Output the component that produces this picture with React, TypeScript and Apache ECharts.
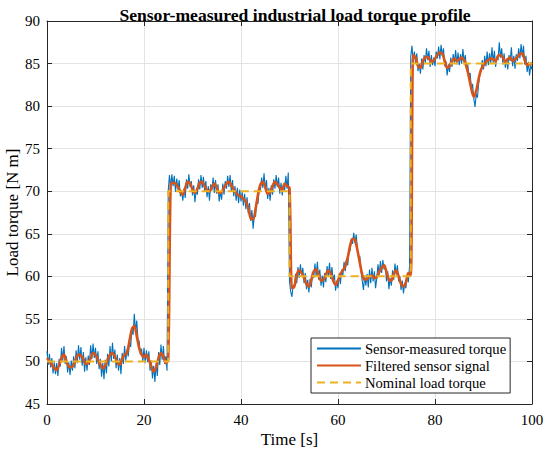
import React, { useEffect, useRef } from "react";
import * as echarts from "echarts";

const TITLE = "Sensor-measured industrial load torque profile";
const X_NAME = "Time [s]";
const Y_NAME = "Load torque [N m]";
const SERIES_NAMES = ["Sensor-measured torque", "Filtered sensor signal", "Nominal load torque"];

// sampling steps (s)
const MEASURED_DT = 0.25;
const FILTERED_DT = 0.5;

// Sensor-measured torque, sampled every 0.25 s from t = 0 to 100 s
const measured: number[] = [
  51.2, 49.6, 50.9, 49.3, 50.4, 48.6, 49.9, 48.5, 49.8, 48.3, 50.3, 49.4, 51.6, 50.1, 51.8, 49.7,
  50.6, 48.7, 49.9, 48.4, 50.1, 48.9, 50.6, 49.2, 51.3, 49.8, 51.9, 50.2, 51.7, 49.5, 51.1, 48.8,
  50.5, 48.9, 50.7, 49.6, 51.9, 50.3, 52.1, 50.4, 51.6, 49.7, 51.2, 49.1, 50.3, 48.2, 49.8, 47.9,
  50.2, 48.6, 50.9, 49.4, 51.8, 50.0, 52.2, 50.3, 51.4, 49.2, 50.8, 48.9, 50.4, 48.5, 51.0, 49.7,
  51.8, 50.1, 51.4, 50.6, 52.3, 51.7, 53.9, 53.1, 55.6, 53.5, 54.8, 52.6, 52.4, 50.8, 51.5, 50.0,
  51.6, 49.8, 51.3, 49.9, 51.2, 48.9, 50.1, 48.0, 49.5, 47.6, 49.8, 48.3, 51.1, 49.6, 52.0, 50.2,
  51.8, 49.7, 50.6, 48.9,
  70.1, 71.9, 70.4, 72.0, 70.6, 71.8, 69.9, 71.5, 70.2, 71.3, 69.4, 70.1, 68.9, 70.3, 69.2, 71.4,
  70.3, 72.0, 70.5, 71.2, 69.5, 70.7, 68.7, 70.1, 69.6, 71.4, 70.2, 71.9, 70.4, 71.7, 70.0, 71.2,
  69.3, 70.6, 68.9, 70.8, 70.1, 71.6, 69.8, 71.3, 69.7, 70.8, 68.8, 70.0, 69.0, 70.9, 69.6, 71.2,
  70.3, 71.8, 70.5, 71.9, 70.0, 71.3, 69.4, 70.6, 68.9, 70.4, 68.6, 70.2, 68.8, 69.9, 68.3, 69.7,
  67.9, 69.3, 67.4, 68.6, 66.5, 67.8, 65.6, 67.2, 67.0, 69.1, 68.5, 70.3, 70.1, 71.6, 70.4, 72.1,
  70.2, 71.3, 69.1, 70.4, 68.9, 70.7, 69.6, 71.4, 70.3, 71.9, 70.5, 71.6, 69.7, 71.0, 69.5, 70.8,
  70.1, 71.8, 70.3, 72.2,
  59.4, 58.2, 57.6, 59.0, 58.6, 60.3, 59.2, 61.1, 59.8, 61.4, 60.1, 61.0, 59.2, 60.4, 58.5, 59.6,
  58.1, 59.7, 58.7, 60.5, 59.8, 61.5, 60.0, 61.7, 59.6, 60.8, 58.9, 60.1, 58.7, 60.4, 59.3, 61.2,
  60.0, 61.6, 59.7, 61.1, 59.4, 60.2, 58.3, 59.5, 58.6, 60.3, 59.1, 60.8, 60.1, 61.7, 60.6, 62.0,
  61.3, 62.9, 63.0, 64.4, 63.8, 65.1, 63.9, 64.9, 63.2, 62.1, 62.4, 60.6, 59.5, 58.4, 60.1, 58.9,
  60.3, 58.7, 60.8, 59.2, 61.0, 59.4, 60.6, 58.6, 59.8, 61.4, 60.2, 61.8, 60.4, 61.9, 60.8, 61.3,
  59.4, 60.6, 58.5, 59.8, 58.9, 60.7, 59.6, 61.5, 60.2, 61.3, 59.4, 60.0, 58.4, 59.5, 58.0, 59.2,
  58.6, 60.1, 59.3, 61.2,
  85.8, 87.1, 85.2, 86.4, 85.0, 86.2, 84.1, 85.0, 83.8, 85.6, 84.3, 86.0, 85.1, 86.8, 85.4, 86.5,
  84.6, 86.0, 84.8, 85.7, 84.7, 86.4, 85.6, 87.0, 85.5, 87.2, 85.9, 86.8, 84.7, 85.3, 83.6, 84.9,
  84.0, 85.7, 84.6, 86.1, 85.1, 86.6, 84.9, 86.3, 84.8, 86.1, 85.0, 86.7, 85.2, 86.0, 84.3, 84.9,
  83.6, 83.9, 82.0, 82.6, 80.9, 79.9, 81.4, 81.0, 82.6, 83.9, 84.1, 85.4, 84.3, 85.9, 84.7, 86.4,
  84.8, 86.2, 85.0, 86.9, 85.1, 86.5, 84.6, 85.8, 85.4, 87.5, 85.7, 86.8, 84.9, 86.2, 84.5, 85.6,
  84.3, 86.0, 85.3, 86.9, 84.7, 85.9, 84.4, 86.1, 85.3, 86.8, 85.6, 87.3, 85.8, 87.1, 84.9, 85.9,
  84.0, 85.2, 83.6, 84.8, 84.3,
];

// Filtered sensor signal, sampled every 0.5 s from t = 0 to 100 s
const filtered: number[] = [
  50.4, 50.0, 49.6, 49.2, 49.0, 49.6, 50.4, 50.8, 50.0, 49.4, 49.3, 49.6, 50.3, 50.8, 50.7, 50.3,
  49.7, 49.8, 50.4, 51.0, 50.8, 50.2, 49.6, 49.2, 49.5, 50.2, 50.8, 51.0, 50.6, 49.9, 49.6, 50.3,
  50.8, 51.0, 52.4, 53.8, 54.2, 53.0, 51.6, 50.8, 50.5, 50.8, 50.2, 49.4, 48.8, 49.3, 50.4, 51.0,
  50.6, 49.8, 50.2,
  70.8, 71.0, 70.9, 70.5, 69.9, 69.6, 70.4, 71.1, 70.9, 70.2, 69.8, 70.3, 71.0, 71.1, 70.6, 70.1,
  70.0, 70.5, 70.9, 70.4, 69.8, 69.9, 70.4, 70.9, 71.1, 70.7, 70.2, 69.8, 69.5, 69.4, 69.1, 68.8,
  68.0, 66.8, 66.7, 67.9, 69.6, 70.8, 71.1, 70.5, 69.7, 69.9, 70.6, 71.1, 70.8, 70.4, 70.2, 70.9,
  70.6, 70.4,
  58.6, 58.8, 60.2, 60.7, 60.4, 59.8, 59.1, 58.8, 59.6, 60.6, 60.8, 60.2, 59.5, 59.6, 60.2, 60.7,
  60.3, 59.5, 59.0, 59.5, 60.3, 60.7, 61.2, 62.2, 63.6, 64.4, 64.3, 63.1, 61.6, 60.2, 59.6, 59.7,
  60.0, 60.1, 59.8, 59.9, 60.5, 61.0, 61.3, 60.5, 59.6, 59.5, 60.3, 60.7, 60.0, 59.1, 58.8, 59.3,
  60.4, 60.1,
  86.0, 85.7, 84.7, 84.5, 85.3, 85.7, 85.8, 85.4, 85.2, 85.6, 86.0, 86.3, 86.2, 85.3, 84.5, 84.7,
  85.3, 85.6, 85.3, 85.5, 85.7, 85.4, 84.6, 83.4, 82.0, 81.1, 81.8, 83.2, 84.3, 84.8, 85.2, 85.4,
  85.6, 85.5, 85.3, 85.9, 86.0, 85.7, 85.2, 85.5, 85.7, 85.3, 85.5, 85.8, 86.1, 86.2, 85.4, 84.8,
  84.9, 85.1,
];

// Nominal load torque (piecewise constant steps)
const nominalTimes = [0, 25, 25, 50, 50, 75, 75, 100];
const nominalValues = [50, 50, 70, 70, 60, 60, 85, 85];

const X_MIN = 0, X_MAX = 100, X_STEP = 20;
const Y_MIN = 45, Y_MAX = 90, Y_STEP = 5;

const FONT = "'Times New Roman', 'Liberation Serif', Times, serif";
const AXIS_COLOR = "#262626";
const GRID_COLOR = "#e3e3e3";

export default function App() {
  const ref = useRef<HTMLDivElement>(null);

  useEffect(() => {
    if (!ref.current) return;
    const chart = echarts.init(ref.current, undefined, { renderer: "svg" });

    const measuredData = measured.map((v, i) => [i * MEASURED_DT, v]);
    const filteredData = filtered.map((v, i) => [i * FILTERED_DT, v]);
    const nominalData = nominalTimes.map((t, i) => [t, nominalValues[i]]);

    const baseX = {
      type: "value" as const,
      min: X_MIN,
      max: X_MAX,
      interval: X_STEP,
    };
    const baseY = {
      type: "value" as const,
      min: Y_MIN,
      max: Y_MAX,
      interval: Y_STEP,
    };

    chart.setOption({
      animation: false,
      backgroundColor: "#ffffff",
      title: {
        text: TITLE,
        left: 290,
        textAlign: "center",
        top: 1,
        textStyle: { fontFamily: FONT, fontSize: 17.6, fontWeight: "bold", color: "#000" },
      },
      grid: {
        left: 47,
        right: 18,
        top: 21,
        bottom: 52,
        containLabel: false,
        outerBoundsMode: "none",
      },
      legend: {
        orient: "vertical",
        left: 311,
        top: 338,
        padding: [3, 4, 3, 5],
        itemGap: 2,
        itemWidth: 44,
        itemHeight: 14,
        borderColor: "#262626",
        borderWidth: 1,
        backgroundColor: "#ffffff",
        itemStyle: { opacity: 0 },
        textStyle: { fontFamily: FONT, fontSize: 14.6, color: "#000", padding: [0, 0, 0, -1] },
        data: SERIES_NAMES,
      },
      xAxis: [
        {
          ...baseX,
          position: "bottom",
          name: X_NAME,
          nameLocation: "middle",
          nameGap: 27,
          nameMoveOverlap: false,
          nameTextStyle: { fontFamily: FONT, fontSize: 17, color: "#000" },
          axisLine: { show: true, onZero: false, lineStyle: { color: AXIS_COLOR, width: 1 } },
          axisTick: { show: true, inside: true, length: 5, lineStyle: { color: AXIS_COLOR } },
          axisLabel: { fontFamily: FONT, fontSize: 15, color: "#000", margin: 8 },
          splitLine: { show: true, lineStyle: { color: GRID_COLOR, width: 1 } },
        },
        {
          ...baseX,
          position: "top",
          axisLine: { show: true, onZero: false, lineStyle: { color: AXIS_COLOR, width: 1 } },
          axisTick: { show: true, inside: true, length: 5, lineStyle: { color: AXIS_COLOR } },
          axisLabel: { show: false },
          splitLine: { show: false },
        },
      ],
      yAxis: [
        {
          ...baseY,
          position: "left",
          name: Y_NAME,
          nameLocation: "middle",
          nameGap: 26,
          nameMoveOverlap: false,
          nameTextStyle: { fontFamily: FONT, fontSize: 17, color: "#000" },
          axisLine: { show: true, onZero: false, lineStyle: { color: AXIS_COLOR, width: 1 } },
          axisTick: { show: true, inside: true, length: 5, lineStyle: { color: AXIS_COLOR } },
          axisLabel: { fontFamily: FONT, fontSize: 15, color: "#000", margin: 7 },
          splitLine: { show: true, lineStyle: { color: GRID_COLOR, width: 1 } },
        },
        {
          ...baseY,
          position: "right",
          axisLine: { show: true, onZero: false, lineStyle: { color: AXIS_COLOR, width: 1 } },
          axisTick: { show: true, inside: true, length: 5, lineStyle: { color: AXIS_COLOR } },
          axisLabel: { show: false },
          splitLine: { show: false },
        },
      ],
      series: [
        {
          name: SERIES_NAMES[0],
          type: "line",
          data: measuredData,
          showSymbol: false,
          symbol: "none",
          lineStyle: { color: "#0072BD", width: 1.1 },
          itemStyle: { color: "#0072BD" },
          z: 2,
        },
        {
          name: SERIES_NAMES[1],
          type: "line",
          data: filteredData,
          showSymbol: false,
          symbol: "none",
          smooth: 0.3,
          lineStyle: { color: "#D95319", width: 2.6 },
          itemStyle: { color: "#D95319" },
          z: 3,
        },
        {
          name: SERIES_NAMES[2],
          type: "line",
          data: nominalData,
          showSymbol: false,
          symbol: "none",
          lineStyle: { color: "#EDB120", width: 2, type: [8, 5] },
          itemStyle: { color: "#EDB120" },
          z: 4,
        },
      ],
    });

    return () => chart.dispose();
  }, []);

  return (
    <div
      ref={ref}
      style={{ width: 550, height: 456, position: "absolute", left: 0, top: 0 }}
    />
  );
}
